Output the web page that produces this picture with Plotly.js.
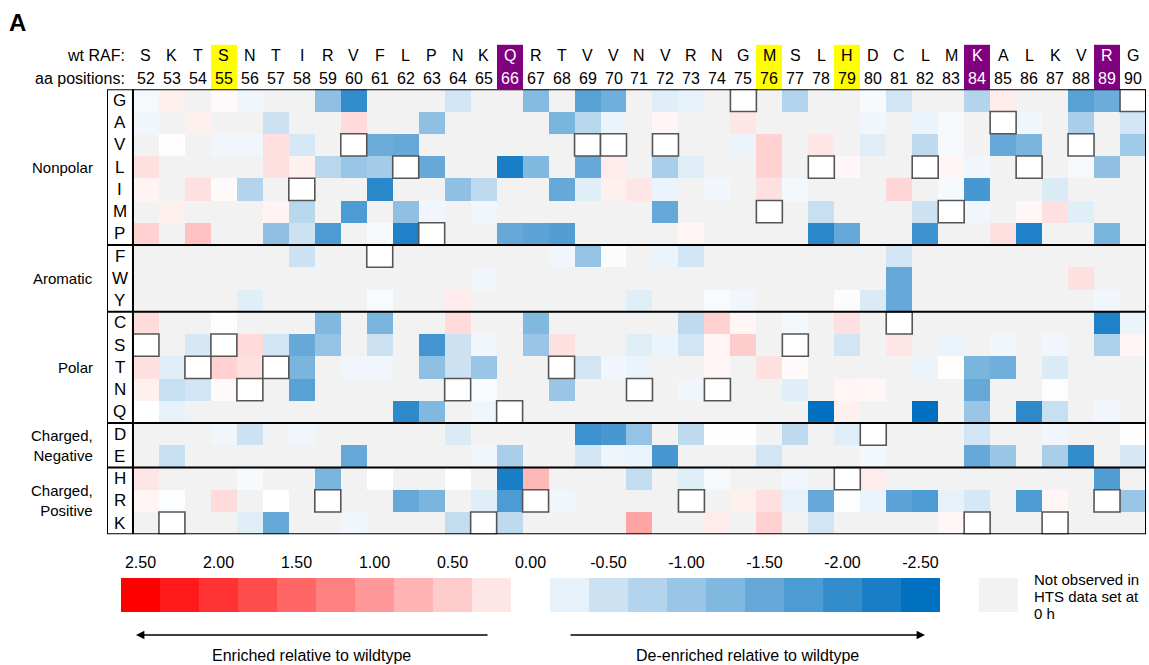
<!DOCTYPE html>
<html>
<head>
<meta charset="utf-8">
<script src="https://cdn.plot.ly/plotly-3.0.1.min.js"></script>
<style>
  html, body { margin: 0; padding: 0; background: #ffffff; }
  #chart { width: 1149px; height: 665px; }
</style>
</head>
<body>
<div id="chart"></div>
<script>
// RAF residues 52-90: wildtype sequence and substitution scores (log enrichment vs wildtype)
const positions = [52,53,54,55,56,57,58,59,60,61,62,63,64,65,66,67,68,69,70,71,
                   72,73,74,75,76,77,78,79,80,81,82,83,84,85,86,87,88,89,90];
const wtResidues = ['S','K','T','S','N','T','I','R','V','F','L','P','N','K','Q','R','T','V','V','N',
                    'V','R','N','G','M','S','L','H','D','C','L','M','K','A','L','K','V','R','G'];
const aminoAcids = ['G','A','V','L','I','M','P','F','W','Y','C','S','T','N','Q','D','E','H','R','K'];

const yellowSites = [55, 76, 79];
const purpleSites = [66, 84, 89];

const groupLabels = ['Nonpolar', 'Aromatic', 'Polar', 'Charged,<br>Negative', 'Charged,<br>Positive'];
const groupFirst  = ['G', 'F', 'C', 'D', 'H'];
const groupLast   = ['P', 'Y', 'Q', 'E', 'K'];

// null = not observed (or the wildtype residue itself)
//            52    53    54    55    56    57    58    59    60    61
const rowG = [-0.1, 0.15, null, 0.05,-0.15, null, null,-1.1, -2.0, null,
              null, null,-0.45, null, null,-1.2, null,-1.65,-1.4, null,
             -0.3,-0.25, null, null, null,-0.75, null, null,-0.08,-0.45,
              null, null,-0.75, 0.18, null, null,-1.65,-1.45, null];
const rowA = [-0.15, null, 0.15, null, null,-0.5, null, null, 0.35, null,
              null,-1.1, null, null, null, null,-1.3,-0.7,-0.2, null,
              0.1, null, null, 0.25, null, null, null, null,-0.15, null,
             -0.2,-0.1, null, null,-0.15, null,-0.85, null,-0.45];
const rowV = [null, 0.03, null,-0.15,-0.15, 0.3,-0.4, null, null,-1.45,
             -1.5, null, null, null, null, null, null, null, null, null,
              null, null, null,-0.2, 0.45, null, 0.25, null,-0.3, null,
             -0.65,-0.1, null,-1.5,-1.3, null, null, null,-0.95];
const rowL = [0.3, null, null, null, null, 0.3, 0.15,-0.7,-1.0,-0.9,
              null,-1.5, null, null,-2.25,-1.25, null,-1.5, 0.2, null,
             -0.85,-0.3, null, null, 0.45, null, null, 0.08, null, null,
              null, 0.1,-0.15, null, null, null,-0.1,-1.1, null];
const rowI = [0.12, null, 0.3, 0.05,-0.75, null, null, null, null,-2.1,
              null, null,-1.1,-0.65, null, null,-1.5,-0.3, 0.15, 0.25,
             -0.2, null,-0.15, null, 0.3,-0.12, null, null, null, 0.4,
              null,-0.08,-1.8, null, null,-0.35, null, null, null];
const rowM = [null, 0.15, null, null, null, 0.12,-0.7, null,-1.75, null,
             -1.1,-0.15, null,-0.15, null, null, null, null, null, null,
             -1.5, null, null, null, null, null,-0.55, null, null, null,
             -0.5, null,-0.15, null, 0.08, 0.3,-0.3, null, null];
const rowP = [0.45, null, 0.6, null, null,-1.1,-0.5,-1.75, null,-0.1,
             -2.2, null, null, null,-1.5,-1.6,-1.7, null, null, null,
              null, 0.1, null, null, null, null,-2.1,-1.5, null, null,
             -1.9, null, null, 0.3,-2.2, null, null,-1.3, null];
const rowF = [null, null, null, null, null, null,-0.5, null, null, null,
              null, null, null, null, null, null,-0.15,-1.05,-0.05, null,
             -0.2,-0.45, null, null, null, null, null, null, null,-0.45,
              null, null, null, null, null, null, null, null, null];
const rowW = [null, null, null, null, null, null, null, null, null, null,
              null, null, null,-0.15, null, null, null, null, null, null,
              null, null, null, null, null, null, null, null, null,-1.5,
              null, null, null, null, null, null, 0.3, null, null];
const rowY = [null, null, null, null,-0.3, null, null, null, null,-0.07,
              null, null, 0.2, null, null, null, null, null, null,-0.3,
              null, null,-0.07,-0.15, null, null, null,-0.05,-0.35,-1.5,
              null, null, null, null, null, null, null,-0.15, null];
const rowC = [0.35, null, null,-0.03, null, null, null,-1.25, null,-1.3,
              null, null, 0.35, null, null,-1.25, null, null, null, null,
              null,-0.65, 0.45, 0.1, null,-0.12, null, 0.3, null, null,
              null, null, null, null, null, null, null,-2.2,-0.2];
const rowS = [null, null,-0.4, null, 0.35,-0.45,-1.5,-1.05, null,-0.5,
              null,-1.85,-0.5,-0.15, null,-1.0, 0.3, null, null,-0.3,
             -0.2,-0.45, 0.1, 0.5, null, null, null,-0.45, null, 0.25,
              null,-0.2, null,-0.15, null,-0.15, null,-0.8, 0.1];
const rowT = [0.3,-0.3, null, 0.45, 0.3, null,-1.3, null,-0.15,-0.15,
              null,-1.1,-0.5,-1.0, null, null, null,-0.45,-0.15,-0.2,
              null, null, 0.1, null, 0.3, 0.05, null, null, null, null,
             -0.2, 0.03,-1.3,-1.4, null,-0.35, null, null, null];
const rowN = [0.15,-0.55,-0.45, 0.05, null, null,-1.65, null, null, null,
              null, null, null,-0.07, null, null,-1.0, null, null, null,
              null,-0.15, null, null, null,-0.3, null, 0.1, 0.08, null,
              null, null,-1.5, null, null,-0.03, null, null, null];
const rowQ = [0.0,-0.25, null, null, null, null, null, null, null, null,
             -2.05,-1.25, null,-0.15, null, null, null, null, null, null,
              null, null, null, null, null, null,-2.5, 0.15, null, null,
             -2.5, null,-1.0, null,-2.05,-0.55, null,-0.15, null];
const rowD = [null, null, null,-0.15,-0.5, null,-0.15, null, null, null,
              null, null,-0.35, null, null, null, null,-1.9,-1.8,-1.05,
              null,-0.65, 0.02,-0.01, null,-0.65, null,-0.3, null, null,
              null, null,-0.45, null, null,-0.15, null, null,-0.01];
const rowE = [null,-0.55, null, null, null, null, null, null,-1.5, null,
              null, null, null,-0.15,-0.85, null, null,-0.45,-0.18,-0.2,
             -1.8, null, null, null,-0.45, null, null, null,-0.12, null,
              null, null,-1.5,-1.0, null,-0.85,-2.0, null,-0.4];
const rowH = [0.25, null, null, null,-0.08, null, null,-1.3, null, 0.0,
              null, null, 0.0, null,-2.25, 0.7, null, null, null,-0.6,
              null,-0.3,-0.1, null, null,-0.15, null, null, 0.2, null,
              null, null, null, null, null, null, null,-1.7, null];
const rowR = [0.1,-0.03, null, 0.35, null, 0.0, null, null, null, null,
             -1.5,-1.3, null,-0.3,-1.75, null,-0.15, null, null, null,
              null, null, null, 0.15, 0.3,-0.25,-1.5,-0.04,-0.2,-1.6,
             -1.75,-0.25,-0.4, null,-1.75, 0.1, null, null,-1.0];
const rowK = [null, null, null, null,-0.3,-1.5, null, null,-0.15, null,
              null, null,-0.6, null,-0.65, null, null, null, null, 0.9,
              null, null, 0.2, null, 0.45, null,-0.45, null, null, null,
              null, 0.08, null, null, null, null, null, null, null];

const scores = [rowG, rowA, rowV, rowL, rowI, rowM, rowP, rowF, rowW, rowY,
                rowC, rowS, rowT, rowN, rowQ, rowD, rowE, rowH, rowR, rowK];

// colour key steps
const legendSteps = [2.5, 2.25, 2.0, 1.75, 1.5, 1.25, 1.0, 0.75, 0.5, 0.25, 0,
                     -0.25, -0.5, -0.75, -1.0, -1.25, -1.5, -1.75, -2.0, -2.25, -2.5];
const legendTickValues = [2.5, 2.0, 1.5, 1.0, 0.5, 0, -0.5, -1.0, -1.5, -2.0, -2.5];
const notObservedLines = ['Not observed in', 'HTS data set at', '0 h'];

// ---------------------------------------------------------------------------
const FONT = 'Liberation Sans, Arial, Helvetica, sans-serif';
const W = 1149, H = 665;
const px = v => v / W;
const py = v => 1 - v / H;

const enrichScale = [[0, '#0070C0'], [0.5, '#FFFFFF'], [1, '#FF0000']];
const GREY = '#F2F2F2';
const flat = c => [[0, c], [1, c]];

const siteCode = positions.map(p =>
  yellowSites.includes(p) ? 1 : (purpleSites.includes(p) ? 2 : null));

const legendIdx = legendSteps.map((_, i) => i);
const traces = [
  { // not-observed background under every substitution cell
    type: 'heatmap', x: positions, y: aminoAcids,
    z: aminoAcids.map(() => positions.map(() => 1)),
    colorscale: flat(GREY), showscale: false, hoverinfo: 'skip',
    xaxis: 'x', yaxis: 'y'
  },
  {
    type: 'heatmap', x: positions, y: aminoAcids, z: scores,
    zmin: -2.5, zmax: 2.5, colorscale: enrichScale, showscale: false,
    hoverongaps: false, xaxis: 'x', yaxis: 'y'
  },
  { // highlighted residues in the header
    type: 'heatmap', x: positions, y: [0, 1], z: [siteCode, siteCode],
    zmin: 1, zmax: 2, showscale: false, hoverinfo: 'skip',
    colorscale: [[0, '#FFFF00'], [0.5, '#FFFF00'], [0.5, '#800080'], [1, '#800080']],
    xaxis: 'x2', yaxis: 'y2'
  },
  { // colour key
    type: 'heatmap', x: legendIdx, y: [0], z: [legendSteps],
    zmin: -2.5, zmax: 2.5, colorscale: enrichScale, showscale: false,
    hoverinfo: 'skip', xaxis: 'x3', yaxis: 'y3'
  },
  { // not-observed swatch
    type: 'heatmap', x: [legendSteps.length + 1], y: [0], z: [[1]],
    colorscale: flat(GREY), showscale: false, hoverinfo: 'skip',
    xaxis: 'x3', yaxis: 'y3'
  }
];

const shapes = [];
// wildtype residue cells
positions.forEach((p, i) => {
  const r = aminoAcids.indexOf(wtResidues[i]);
  shapes.push({ type: 'rect', xref: 'x', yref: 'y',
    x0: p - 0.5, x1: p + 0.5, y0: r - 0.5, y1: r + 0.5,
    fillcolor: '#FFFFFF', line: { color: '#555555', width: 1.6 }, layer: 'above' });
});
const xL = positions[0] - 1.5, xR = positions[positions.length - 1] + 0.5;
// group separators
groupLast.slice(0, -1).forEach(aa => {
  const y = aminoAcids.indexOf(aa) + 0.5;
  shapes.push({ type: 'line', xref: 'x', yref: 'y', x0: xL, x1: xR, y0: y, y1: y,
    line: { color: '#000000', width: 2 } });
});
// outer frame and label column divider
shapes.push({ type: 'rect', xref: 'x', yref: 'y', x0: xL, x1: xR, y0: -0.5, y1: aminoAcids.length - 0.5,
  line: { color: '#000000', width: 2 } });
shapes.push({ type: 'line', xref: 'x', yref: 'y', x0: xL + 1, x1: xL + 1, y0: -0.5, y1: aminoAcids.length - 0.5,
  line: { color: '#000000', width: 2 } });

const annotations = [];
const txt = (o) => Object.assign({ showarrow: false, xanchor: 'center', yanchor: 'middle',
  font: { family: FONT, size: 16, color: '#000' } }, o);

// panel letter
annotations.push(txt({ xref: 'paper', yref: 'paper', x: px(7), y: py(7), xanchor: 'left', yanchor: 'top',
  text: '<b>A</b>', font: { family: FONT, size: 24, color: '#000' } }));

// header rows
annotations.push(txt({ xref: 'paper', yref: 'y2', x: px(127), y: 0, xanchor: 'right', text: 'wt RAF:' }));
annotations.push(txt({ xref: 'paper', yref: 'y2', x: px(127), y: 1, xanchor: 'right', text: 'aa positions:' }));
positions.forEach((p, i) => {
  const c = purpleSites.includes(p) ? '#FFFFFF' : '#000000';
  annotations.push(txt({ xref: 'x2', yref: 'y2', x: p, y: 0, text: wtResidues[i],
    font: { family: FONT, size: 16, color: c } }));
  annotations.push(txt({ xref: 'x2', yref: 'y2', x: p, y: 1, text: String(p),
    font: { family: FONT, size: 16, color: c } }));
});

// amino-acid labels
aminoAcids.forEach((aa, r) => {
  annotations.push(txt({ xref: 'x', yref: 'y', x: positions[0] - 1, y: r, text: aa,
    font: { family: FONT, size: 17, color: '#000' } }));
});

// group labels
groupLabels.forEach((g, k) => {
  const a = aminoAcids.indexOf(groupFirst[k]), b = aminoAcids.indexOf(groupLast[k]);
  annotations.push(txt({ xref: 'paper', yref: 'y', x: px(95), y: (a + b) / 2, xanchor: 'right',
    align: 'right', text: g, font: { family: FONT, size: 15, color: '#000' } }));
});

// key captions and arrows
notObservedLines.forEach((line, k) => {
  annotations.push(txt({ xref: 'paper', yref: 'paper', x: px(1032), y: py(579 + 17 * k), xanchor: 'left',
    text: line, font: { family: FONT, size: 15, color: '#000' } }));
});
annotations.push({ xref: 'paper', yref: 'paper', x: px(136), y: py(635), ax: 353, ay: 0, text: '',
  showarrow: true, arrowhead: 2, arrowsize: 1.2, arrowwidth: 1.4, arrowcolor: '#000' });
annotations.push({ xref: 'paper', yref: 'paper', x: px(925), y: py(635), ax: -356, ay: 0, text: '',
  showarrow: true, arrowhead: 2, arrowsize: 1.2, arrowwidth: 1.4, arrowcolor: '#000' });
annotations.push(txt({ xref: 'paper', yref: 'paper', x: px(311), y: py(655), text: 'Enriched relative to wildtype' }));
annotations.push(txt({ xref: 'paper', yref: 'paper', x: px(747), y: py(655), text: 'De-enriched relative to wildtype' }));

const hidden = { showgrid: false, zeroline: false, showticklabels: false, ticks: '', showline: false, fixedrange: true };

const layout = {
  width: W, height: H,
  margin: { l: 0, r: 0, t: 0, b: 0 },
  paper_bgcolor: '#FFFFFF', plot_bgcolor: '#FFFFFF',
  font: { family: FONT, color: '#000' },
  showlegend: false, hovermode: false,
  xaxis: Object.assign({}, hidden, { domain: [px(107), px(1146)], range: [xL, xR], anchor: 'y' }),
  yaxis: Object.assign({}, hidden, { domain: [py(534.3), py(89.3)], type: 'category',
    categoryorder: 'array', categoryarray: aminoAcids, range: [aminoAcids.length - 0.5, -0.5], anchor: 'x' }),
  xaxis2: Object.assign({}, hidden, { domain: [px(107), px(1146)], range: [xL, xR], anchor: 'y2' }),
  yaxis2: Object.assign({}, hidden, { domain: [py(89.3), py(44.6)], range: [1.5, -0.5], anchor: 'x2' }),
  xaxis3: Object.assign({}, hidden, {
    domain: [px(121), px(121 + 39 * (legendSteps.length + 2))],
    range: [-0.5, legendSteps.length + 1.5], anchor: 'y3', side: 'top',
    showticklabels: true, tickmode: 'array',
    tickvals: legendTickValues.map(v => legendSteps.indexOf(v)),
    ticktext: legendTickValues.map(v => v.toFixed(2)),
    tickfont: { family: FONT, size: 16, color: '#000' }, ticklabelstandoff: 6 }),
  yaxis3: Object.assign({}, hidden, { domain: [py(612), py(578)], range: [-0.5, 0.5], anchor: 'x3' }),
  shapes: shapes,
  annotations: annotations
};

Plotly.newPlot('chart', traces, layout, { displayModeBar: false, staticPlot: true });
</script>
</body>
</html>
